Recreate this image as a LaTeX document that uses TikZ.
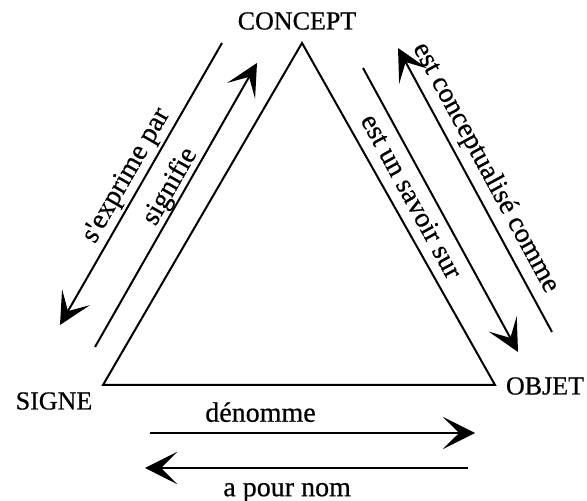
\documentclass[tikz,border=0pt]{standalone}
\usepackage{fontspec}
\setmainfont{Liberation Serif}[Ligatures=TeXOff,FakeBold=0.6]
\usetikzlibrary{arrows.meta}

\begin{document}
\begin{tikzpicture}[x=0.5pt,y=0.5pt,
  pole/.style={font=\fontsize{13}{15}\selectfont},
  rel/.style={line width=1pt,-{Stealth[length=16pt,width=16pt,inset=8pt]}},
  lbl/.style={font=\fontsize{14}{16}\selectfont,inner sep=1pt,sloped}]

\useasboundingbox (0,0) rectangle (587,501);

\coordinate (concept) at (302,458);
\coordinate (signe) at (103,116);
\coordinate (objet) at (495,116);

\coordinate (exprime-start) at (222,458);
\coordinate (exprime-end) at (60,176);
\coordinate (signifie-start) at (95,154);
\coordinate (signifie-end) at (257,438);
\coordinate (savoir-start) at (363,433);
\coordinate (savoir-end) at (518,149);
\coordinate (conceptualise-start) at (552,169);
\coordinate (conceptualise-end) at (398,453);
\coordinate (denomme-start) at (150,68);
\coordinate (denomme-end) at (475,68);
\coordinate (nom-start) at (468,33);
\coordinate (nom-end) at (145,33);

\node[pole] (concept-label) at (297,480) {CONCEPT};
\node[pole] (signe-label) at (54,100) {SIGNE};
\node[pole] (objet-label) at (545,115) {OBJET};

\draw[line width=1pt] (concept) -- (signe) -- (objet) -- cycle;

\draw[rel] (exprime-start) -- node[lbl,above=0.5pt,pos=0.5] {s'exprime par} (exprime-end);
\draw[rel] (signifie-start) -- node[lbl,above=-1pt,pos=0.54] {signifie} (signifie-end);
\draw[rel] (savoir-start) -- node[lbl,below=3pt,pos=0.42] {est un savoir sur} (savoir-end);
\draw[rel] (conceptualise-start) -- node[lbl,above=2pt,pos=0.545] {est conceptualisé comme} (conceptualise-end);
\draw[rel] (denomme-start) -- node[lbl,above=4pt,pos=0.34] {dénomme} (denomme-end);
\draw[rel] (nom-start) -- node[lbl,below=6pt,pos=0.56] {a pour nom} (nom-end);

\end{tikzpicture}
\end{document}
